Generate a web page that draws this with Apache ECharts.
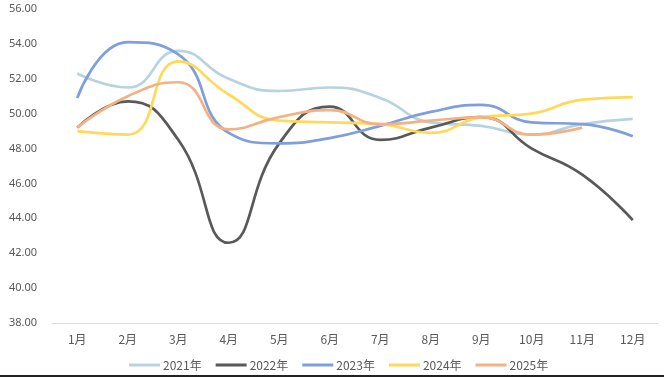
<!DOCTYPE html>
<html><head><meta charset="utf-8">
<script src="https://cdn.jsdelivr.net/npm/echarts@6/dist/echarts.min.js"></script>
<style>html,body{margin:0;padding:0;background:#fff}#c{width:664px;height:377px}</style>
</head><body><div id="c"></div>
<script>
const months = ['1月','2月','3月','4月','5月','6月','7月','8月','9月','10月','11月','12月'];
const s2021 = [52.3, 51.5, 53.6, 52.0, 51.3, 51.5, 50.9, 49.5, 49.3, 48.8, 49.4, 49.7];
const s2022 = [49.2, 50.7, 48.5, 42.6, 48.3, 50.4, 48.5, 49.2, 49.8, 48.0, 46.5, 43.9];
const s2023 = [50.9, 54.1, 53.4, 48.9, 48.3, 48.6, 49.3, 50.1, 50.5, 49.5, 49.4, 48.7];
const s2024 = [49.0, 48.8, 53.0, 51.1, 49.6, 49.5, 49.4, 48.9, 49.8, 50.0, 50.8, 50.95];
const s2025 = [49.2, 51.0, 51.8, 49.1, 49.8, 50.2, 49.4, 49.6, 49.8, 48.8, 49.2];
const names = ['2021年','2022年','2023年','2024年','2025年'];
const colors = ['#B7D3E0','#595959','#7F9FDB','#FFD95A','#F4B183'];
const data = [s2021, s2022, s2023, s2024, s2025];

const chart = echarts.init(document.getElementById('c'));
chart.setOption({
  animation: false,
  backgroundColor: '#fff',
  grid: {left: 52, right: 6, top: 9, bottom: 54},
  legend: {
    bottom: 1, left: 124,
    icon: 'rect', itemWidth: 31, itemHeight: 3, itemGap: 14,
    textStyle: {color: '#595959', fontSize: 12, padding: [0, 0, 0, -2], fontFamily: 'Microsoft YaHei, Noto Sans CJK SC, sans-serif'},
    data: names
  },
  xAxis: {
    type: 'category', data: months, boundaryGap: true,
    axisLine: {lineStyle: {color: '#D9D9D9', width: 1}},
    axisTick: {show: false},
    axisLabel: {color: '#595959', fontSize: 12, margin: 10, fontFamily: 'Noto Sans CJK SC, sans-serif'}
  },
  yAxis: {
    type: 'value', min: 38, max: 56, interval: 2,
    splitLine: {show: false},
    axisLine: {show: false}, axisTick: {show: false},
    axisLabel: {color: '#595959', fontSize: 11, formatter: v => v.toFixed(2), margin: 15, fontFamily: 'Noto Sans, sans-serif'}
  },
  series: names.map((n, i) => ({
    name: n, type: 'line', data: data[i], smooth: 0.5, symbol: 'none',
    lineStyle: {color: colors[i], width: 2.7},
    itemStyle: {color: colors[i]}
  })),
  graphic: [{type: 'rect', left: 0, bottom: 0, shape: {width: 664, height: 2}, style: {fill: '#222'}}]
});
</script></body></html>
